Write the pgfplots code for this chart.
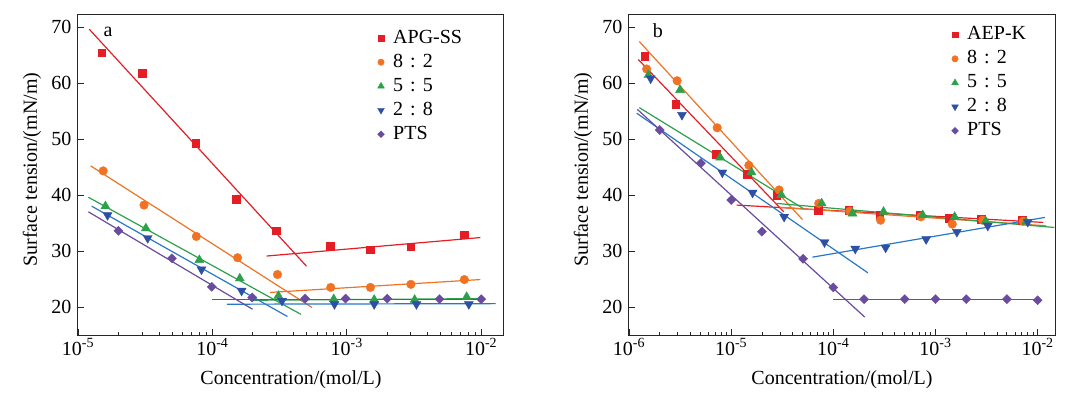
\documentclass[border=0pt]{standalone}
\usepackage{fontspec}
\setmainfont{Liberation Serif}
\usepackage{pgfplots}
\pgfplotsset{compat=1.18}
\definecolor{cred}{RGB}{228,30,36}
\definecolor{corange}{RGB}{240,115,35}
\definecolor{cgreen}{RGB}{45,160,75}
\definecolor{cblue}{RGB}{45,80,165}
\definecolor{cblueline}{RGB}{40,120,200}
\definecolor{cpurple}{RGB}{105,75,160}
\newcommand{\fs}{\fontsize{20}{24}\selectfont}
\pgfplotsset{
  every axis/.append style={
    width=426pt, height=320pt, scale only axis,
    xmax=0.01479, ymin=15, ymax=72.14,
    ytick={20,30,40,50,60,70},
    /pgf/number format/assume math mode=true,
    tick align=inside, tick pos=left,
    major tick length=6pt, minor tick length=3.5pt,
    axis line style={line width=1pt, black!85},
    every tick/.style={black!85, line width=0.8pt},
    tick label style={font=\fs},
    yticklabel style={xshift=-3pt},
    label style={font=\fs},
    xlabel style={at={(axis description cs:0.5,-0.1406)}, anchor=center},
    ylabel style={at={(axis description cs:-0.108,0.517)}, anchor=center},
    legend cell align=left,
    legend style={draw=none, fill=none, font=\fs, inner sep=0pt, row sep=2pt,
      nodes={inner sep=2pt, text height=14pt, text depth=4pt}},
  },
  legend image code/.code={\draw[#1,every mark/.append style={scale=0.75}] plot coordinates {(0pt,0pt)}; \path (-4pt,0pt) (10pt,0pt);},
  myln/.style={line width=1.2pt, forget plot},
  mymk/.style={only marks},
}
\begin{document}
\begin{tikzpicture}[x=1pt,y=1pt]
\useasboundingbox (0pt,-395pt) rectangle (1079pt,0pt);
% ---------------- panel a
\begin{axis}[xmode=log, at={(78pt,-335pt)}, anchor=south west,
  xmin=1e-5,
  xlabel={Concentration/(mol/L)},
  ylabel={Surface tension/(mN/m)},
  xtick={1e-5,1e-4,1e-3,1e-2},
  xticklabels={10\textsuperscript{-5},10\textsuperscript{-4},10\textsuperscript{-3},10\textsuperscript{-2}},
  legend style={at={(axis description cs:0.701,0.9625)}, anchor=north west}]
\addplot[myln, cred] coordinates {(1.213e-5,69.6) (5.01e-4,27.3)};
\addplot[myln, cred] coordinates {(2.53e-4,29.1) (9.86e-3,32.4)};
\addplot[myln, corange] coordinates {(1.242e-5,45.2) (5.52e-4,19.9)};
\addplot[myln, corange] coordinates {(2.68e-4,22.6) (9.86e-3,24.9)};
\addplot[myln, cgreen] coordinates {(1.194e-5,39.6) (4.55e-4,18.7)};
\addplot[myln, cgreen] coordinates {(1.9e-4,21.2) (1e-2,21.5)};
\addplot[myln, cblueline] coordinates {(1.265e-5,38.0) (3.62e-4,18.3)};
\addplot[myln, cblueline] coordinates {(1.28e-4,20.5) (1.28e-2,20.6)};
\addplot[myln, cpurple] coordinates {(1.194e-5,37.0) (1.99e-4,19.6)};
\addplot[myln, cpurple] coordinates {(9.86e-5,21.4) (1e-2,21.4)};
\addplot[mymk, cred, mark=square*, mark size=3.8pt] coordinates {(1.5e-5,65.4) (3e-5,61.7) (7.5e-5,49.3) (1.5e-4,39.2) (3e-4,33.6) (7.5e-4,30.9) (1.5e-3,30.2) (3e-3,30.8) (7.5e-3,32.9)};
\addlegendentry{APG-SS}
\addplot[mymk, corange, mark=*, mark size=4.3pt] coordinates {(1.54e-5,44.3) (3.1e-5,38.2) (7.6e-5,32.6) (1.54e-4,28.8) (3.05e-4,25.8) (7.6e-4,23.5) (1.5e-3,23.5) (3e-3,24.05) (7.5e-3,24.9)};
\addlegendentry{8\hspace{0.35em}:\hspace{0.35em}2}
\addplot[mymk, cgreen, mark=triangle*, mark size=5.2pt] coordinates {(1.6e-5,38.0) (3.2e-5,34.05) (8e-5,28.4) (1.6e-4,25.1) (3.1e-4,22.0) (8e-4,21.4) (1.6e-3,21.3) (3.2e-3,21.3) (7.8e-3,21.8)};
\addlegendentry{5\hspace{0.35em}:\hspace{0.35em}5}
\addplot[mymk, cblue, mark=triangle*, mark size=5.2pt, mark options={rotate=180}] coordinates {(1.66e-5,36.4) (3.3e-5,32.3) (8.3e-5,26.7) (1.65e-4,22.9) (3.3e-4,21.1) (8.1e-4,20.5) (1.6e-3,20.5) (3.3e-3,20.5) (8.1e-3,20.5)};
\addlegendentry{2\hspace{0.35em}:\hspace{0.35em}8}
\addplot[mymk, cpurple, mark=square*, mark size=3.2pt, mark options={rotate=45}] coordinates {(2e-5,33.6) (5e-5,28.7) (9.9e-5,23.6) (1.98e-4,21.7) (4.9e-4,21.5) (9.8e-4,21.5) (2e-3,21.5) (4.9e-3,21.4) (1e-2,21.4)};
\addlegendentry{PTS}
\node[font=\fs] at (axis description cs:0.0704,0.947) {a};
\end{axis}
% ---------------- panel b
\begin{axis}[xmode=log, at={(629pt,-335pt)}, anchor=south west,
  xmin=1e-6,
  xlabel={Concentration/(mol/L)},
  ylabel={Surface tension/(mN/m)},
  xtick={1e-6,1e-5,1e-4,1e-3,1e-2},
  xticklabels={10\textsuperscript{-6},10\textsuperscript{-5},10\textsuperscript{-4},10\textsuperscript{-3},10\textsuperscript{-2}},
  legend style={at={(axis description cs:0.755,0.973)}, anchor=north west}]
\addplot[myln, cred] coordinates {(1.233e-6,64.2) (3.27e-5,37.0)};
\addplot[myln, cred] coordinates {(1.13e-5,38.2) (1.14e-2,35.1)};
\addplot[myln, corange] coordinates {(1.262e-6,67.4) (4.99e-5,35.6)};
\addplot[myln, corange] coordinates {(3e-5,37.8) (1.2e-2,34.5)};
\addplot[myln, cgreen] coordinates {(1.262e-6,55.6) (5.06e-5,37.6)};
\addplot[myln, cgreen] coordinates {(2.78e-5,38.5) (1.46e-2,34.2)};
\addplot[myln, cblueline] coordinates {(1.19e-6,54.6) (2.18e-4,26.1)};
\addplot[myln, cblueline] coordinates {(6.25e-5,28.9) (1.18e-2,36.0)};
\addplot[myln, cpurple] coordinates {(1.205e-6,55.3) (2.03e-4,18.2)};
\addplot[myln, cpurple] coordinates {(9.93e-5,21.4) (1e-2,21.4)};
\addplot[mymk, cred, mark=square*, mark size=3.8pt] coordinates {(1.43e-6,64.8) (2.86e-6,56.2) (7.1e-6,47.3) (1.43e-5,43.7) (2.8e-5,40.0) (7.1e-5,37.3) (1.42e-4,37.3) (2.84e-4,36.4) (7e-4,36.4) (1.37e-3,35.9) (2.8e-3,35.7) (7.1e-3,35.5)};
\addlegendentry{AEP-K}
\addplot[mymk, corange, mark=*, mark size=4.3pt] coordinates {(1.49e-6,62.5) (2.96e-6,60.4) (7.3e-6,52.0) (1.49e-5,45.3) (2.95e-5,40.9) (7.2e-5,38.5) (1.45e-4,37.1) (2.9e-4,35.5) (7.2e-4,36.1) (1.46e-3,34.8) (2.9e-3,35.5) (7.2e-3,35.3)};
\addlegendentry{8\hspace{0.35em}:\hspace{0.35em}2}
\addplot[mymk, cgreen, mark=triangle*, mark size=5.2pt] coordinates {(1.55e-6,61.4) (3.16e-6,58.75) (7.8e-6,46.7) (1.58e-5,44.05) (3.1e-5,40.0) (7.7e-5,38.5) (1.54e-4,36.7) (3.1e-4,37.0) (7.5e-4,36.4) (1.54e-3,36.1) (3.1e-3,35.3) (7.7e-3,35.2)};
\addlegendentry{5\hspace{0.35em}:\hspace{0.35em}5}
\addplot[mymk, cblue, mark=triangle*, mark size=5.2pt, mark options={rotate=180}] coordinates {(1.63e-6,60.8) (3.3e-6,54.3) (8.2e-6,44.0) (1.62e-5,40.4) (3.3e-5,36.1) (8.2e-5,31.55) (1.64e-4,30.4) (3.25e-4,30.6) (8.1e-4,32.1) (1.62e-3,33.4) (3.25e-3,34.5) (8e-3,35.2)};
\addlegendentry{2\hspace{0.35em}:\hspace{0.35em}8}
\addplot[mymk, cpurple, mark=square*, mark size=3.2pt, mark options={rotate=45}] coordinates {(2e-6,51.6) (5.06e-6,45.7) (1e-5,39.1) (2e-5,33.45) (5.06e-5,28.6) (1e-4,23.5) (2e-4,21.4) (5e-4,21.4) (1e-3,21.4) (2e-3,21.4) (5e-3,21.4) (1e-2,21.2)};
\addlegendentry{PTS}
\node[font=\fs] at (axis description cs:0.068,0.95) {b};
\end{axis}
\end{tikzpicture}
\end{document}
